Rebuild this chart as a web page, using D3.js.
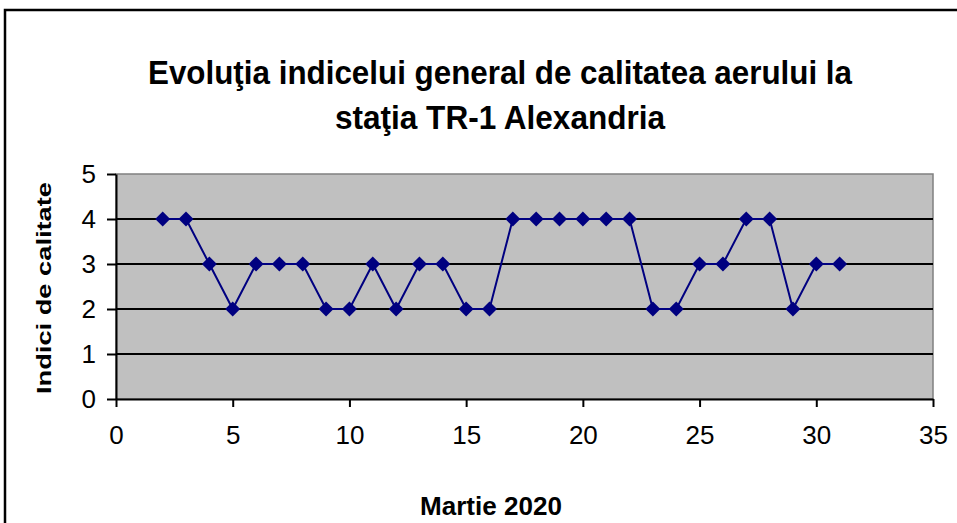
<!DOCTYPE html>
<html><head><meta charset="utf-8">
<script src="https://cdn.jsdelivr.net/npm/d3@7"></script>
<style>body{margin:0;background:#fff}svg{display:block}</style>
</head><body>
<svg id="c" width="957" height="523"></svg>
<script>
const days = [2,3,4,5,6,7,8,9,10,11,12,13,14,15,16,17,18,19,20,21,22,23,24,25,26,27,28,29,30,31];
const values = [4,4,3,2,3,3,3,2,2,3,2,3,3,2,2,4,4,4,4,4,4,2,2,3,3,4,4,2,3,3];
const xTicks = [0,5,10,15,20,25,30,35];
const yTicks = [0,1,2,3,4,5];
const titleLines = ["Evoluţia indicelui general de calitatea aerului la","staţia TR-1 Alexandria"];
const xTitle = "Martie 2020";
const yTitle = "Indici de calitate";

const svg = d3.select("#c");
const font = "'Liberation Sans', Arial, sans-serif";
// outer frame
svg.append("rect").attr("x",5).attr("y",10).attr("width",960).attr("height",530)
  .attr("fill","#fff").attr("stroke","#000").attr("stroke-width",2.5);

const L=116, R=933, T=174, B=399;
const x = d3.scaleLinear().domain([0,35]).range([L,R]);
const y = d3.scaleLinear().domain([0,5]).range([B,T]);

svg.append("rect").attr("x",L).attr("y",T).attr("width",R-L).attr("height",B-T)
  .attr("fill","#C0C0C0").attr("stroke","#808080").attr("stroke-width",1.5);

// gridlines
svg.append("g").selectAll("line").data(yTicks.filter(d=>d>0&&d<5)).join("line")
  .attr("x1",L).attr("x2",R).attr("y1",d=>y(d)).attr("y2",d=>y(d))
  .attr("stroke","#000").attr("stroke-width",2);

// axes
const xa = svg.append("g").attr("transform",`translate(0,${B})`)
  .call(d3.axisBottom(x).tickValues(xTicks).tickFormat(d3.format("d")).tickSize(8).tickPadding(19).tickSizeOuter(0));
const ya = svg.append("g").attr("transform",`translate(${L},0)`)
  .call(d3.axisLeft(y).tickValues(yTicks).tickFormat(d3.format("d")).tickSize(9).tickPadding(11).tickSizeOuter(0));
[xa,ya].forEach(a=>{
  a.attr("font-family",font).attr("font-size",26);
  a.select(".domain").attr("stroke","#000").attr("stroke-width",2);
  a.selectAll(".tick line").attr("stroke","#000").attr("stroke-width",2);
  a.selectAll("text").attr("fill","#000");
});

// line
const pts = days.map((d,i)=>[d,values[i]]);
svg.append("path").datum(pts)
  .attr("d",d3.line().x(d=>x(d[0])).y(d=>y(d[1])))
  .attr("fill","none").attr("stroke","#000080").attr("stroke-width",2);
svg.append("g").selectAll("path").data(pts).join("path")
  .attr("transform",d=>`translate(${x(d[0])},${y(d[1])})`)
  .attr("d","M0,-7.5L7.5,0L0,7.5L-7.5,0Z").attr("fill","#000080");

// titles
const tw = [704, 330];
titleLines.forEach((t,i)=>{
  svg.append("text").attr("x",500).attr("y",84+i*45).attr("text-anchor","middle")
    .attr("font-family",font).attr("font-weight","bold").attr("font-size",34)
    .attr("textLength",tw[i]).attr("lengthAdjust","spacingAndGlyphs").text(t);
});
svg.append("text").attr("x",491).attr("y",515).attr("text-anchor","middle")
  .attr("font-family",font).attr("font-weight","bold").attr("font-size",26)
  .attr("textLength",142).attr("lengthAdjust","spacingAndGlyphs").text(xTitle);
svg.append("text").attr("transform","translate(51,288) rotate(-90)").attr("text-anchor","middle")
  .attr("font-family",font).attr("font-weight","bold").attr("font-size",20)
  .attr("textLength",212).attr("lengthAdjust","spacingAndGlyphs").text(yTitle);
</script>
</body></html>
